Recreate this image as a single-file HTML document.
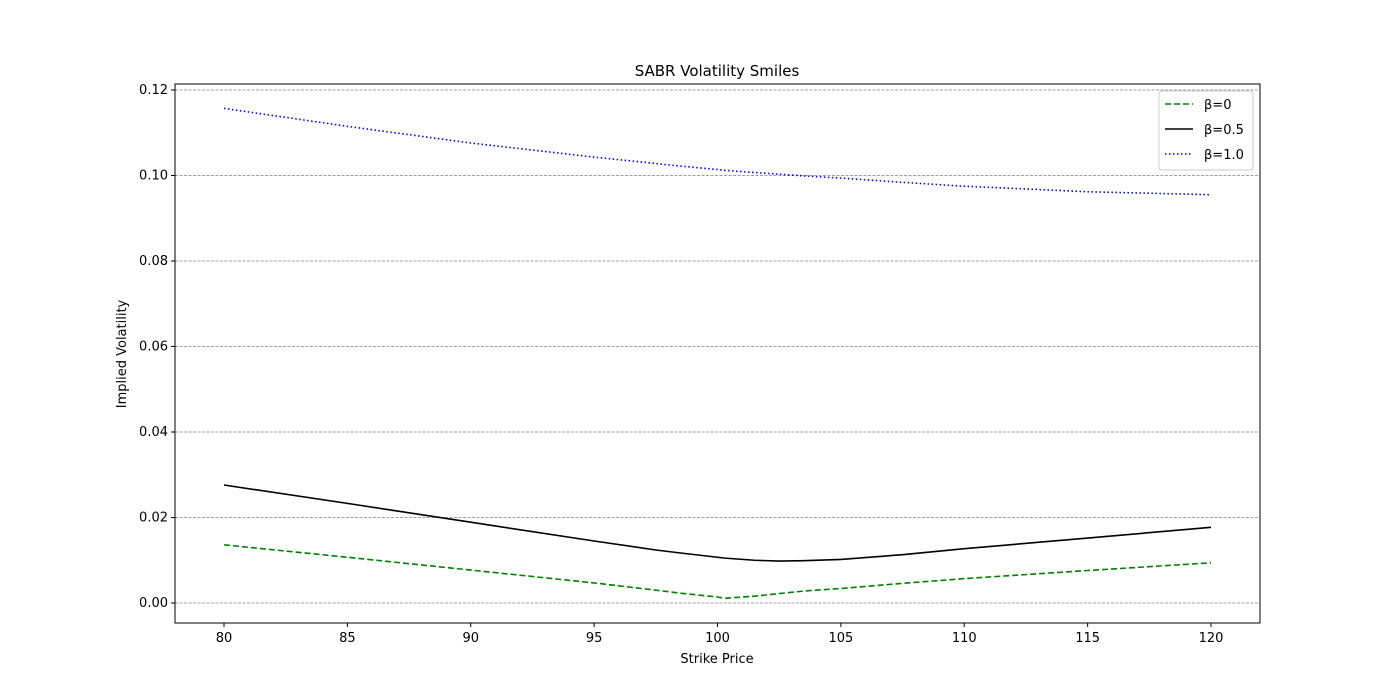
<!DOCTYPE html>
<html><head><meta charset="utf-8"><style>
body{margin:0;background:#fff;}
svg{display:block;font-family:"DejaVu Sans","Liberation Sans",sans-serif;}
</style></head><body>
<svg id="chart" width="1400" height="700"></svg>
<script>
const strikes=[80,85,90,95,97.5,98.5,100,100.3,101.5,102.5,103.5,105,107.5,110,115,120];
const beta0=[0.0136,0.0107,0.0077,0.0047,0.0030,0.0023,0.0014,0.0011,0.0016,0.0022,0.0028,0.0034,0.0046,0.0057,0.0076,0.0094];
const beta05=[0.0276,0.0233,0.0189,0.0145,0.0124,0.0117,0.0107,0.0105,0.0100,0.0098,0.0099,0.0102,0.0113,0.0127,0.0152,0.0177];
const beta1=[0.1157,0.1115,0.1076,0.1043,0.1028,0.1022,0.1014,0.1012,0.1007,0.1003,0.0999,0.0994,0.0984,0.0975,0.0962,0.0955];
const xTicks=[80,85,90,95,100,105,110,115,120];
const yTicks=[0,0.02,0.04,0.06,0.08,0.10,0.12];
const NS="http://www.w3.org/2000/svg";
const svg=document.getElementById('chart');
const L=175,R=1260,T=84,B=623;
const xs=v=>224+(v-80)*(1211-224)/40;
const ys=v=>603-v*(513/0.12);
function mk(t,a,p){const e=document.createElementNS(NS,t);for(const k in a)e.setAttribute(k,a[k]);(p||svg).appendChild(e);return e;}
yTicks.forEach(v=>{
 const g=mk('line',{x1:L,x2:R,y1:ys(v),y2:ys(v),stroke:'#808080','stroke-width':0.8,'stroke-dasharray':'3,1.5'});
 
 
 mk('line',{x1:L-4,x2:L,y1:ys(v),y2:ys(v),stroke:'#000'});
 const t=mk('text',{x:L-7,y:ys(v)+4,'text-anchor':'end','font-size':13});
 t.textContent=v.toFixed(2);
 
 
});
xTicks.forEach(v=>{
 mk('line',{x1:xs(v),x2:xs(v),y1:B,y2:B+4,stroke:'#000'});
 const t=mk('text',{x:xs(v),y:B+19,'text-anchor':'middle','font-size':13});
 t.textContent=v;
 
 
});
function series(arr,color,dash,name){
 const d=arr.map((v,i)=>(i?'L':'M')+xs(strikes[i])+','+ys(v)).join('');
 const p=mk('path',{d:d,fill:'none',stroke:color,'stroke-width':1.6,'stroke-dasharray':dash,'stroke-linejoin':'round'});
 
 
}
series(beta0,'#008000','6,3','line-beta-0');
series(beta05,'#000','none','line-beta-0-5');
series(beta1,'#0000ff','1.5,2.5','line-beta-1-0');
const fr=mk('rect',{x:L,y:T,width:R-L,height:B-T,fill:'none',stroke:'#000','stroke-width':1});


const title=mk('text',{x:717,y:76,'text-anchor':'middle','font-size':15});
title.textContent='SABR Volatility Smiles';


const xl=mk('text',{x:717,y:663,'text-anchor':'middle','font-size':13});
xl.textContent='Strike Price';


const yl=mk('text',{x:126,y:354,'text-anchor':'middle','font-size':13,transform:'rotate(-90 126 354)'});
yl.textContent='Implied Volatility';


const lg=mk('g',{});


mk('rect',{x:1159,y:91,width:94,height:79,rx:3,fill:'#fff',stroke:'#ccc'},lg);
const entries=[['β=0','#008000','6,3'],['β=0.5','#000','none'],['β=1.0','#0000ff','1.5,2.5']];
entries.forEach((e,i)=>{
 const y=104+i*25;
 mk('line',{x1:1165,x2:1193,y1:y,y2:y,stroke:e[1],'stroke-width':1.6,'stroke-dasharray':e[2]},lg);
 const t=mk('text',{x:1204,y:y+5,'font-size':13},lg);
 t.textContent=e[0];
 
 
});
</script>
</body></html>
